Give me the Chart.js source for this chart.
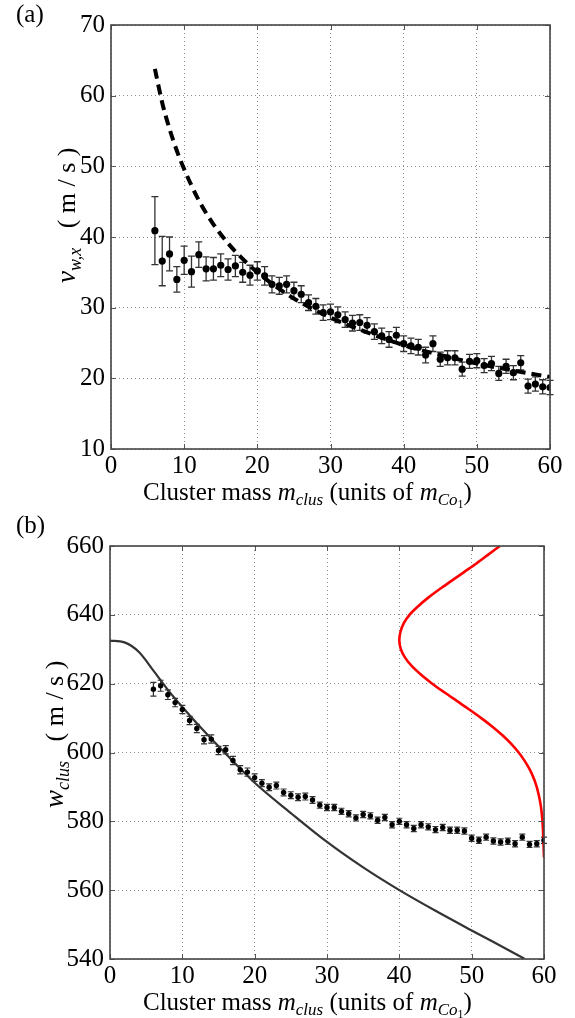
<!DOCTYPE html>
<html>
<head>
<meta charset="utf-8">
<script src="https://cdn.jsdelivr.net/npm/chart.js@4.4.1/dist/chart.umd.min.js"></script>
<style>
  html, body { margin: 0; padding: 0; background: #fff; }
  #wrap { position: relative; width: 575px; height: 1018px; }
  canvas { position: absolute; left: 0; }
  #chartA { top: 0; }
  #chartB { top: 509px; }
</style>
</head>
<body>
<div id="wrap">
  <canvas id="chartA" width="575" height="509"></canvas>
  <canvas id="chartB" width="575" height="509"></canvas>
</div>
<script>
// ---- panel (a): wind velocity vs cluster mass ----
const massA = [6, 7, 8, 9, 10, 11, 12, 13, 14, 15, 16, 17, 18, 19, 20, 21, 22, 23, 24, 25,
  26, 27, 28, 29, 30, 31, 32, 33, 34, 35, 36, 37, 38, 39, 40, 41, 42, 43, 44, 45,
  46, 47, 48, 49, 50, 51, 52, 53, 54, 55, 56, 57, 58, 59, 60];
const velA = [40.9, 36.6, 37.6, 34.0, 36.7, 35.1, 37.5, 35.5, 35.5, 36.0, 35.4, 35.9, 35.0, 34.6, 35.2, 34.5, 33.3, 33.1, 33.3, 32.4,
  31.9, 30.7, 30.2, 29.3, 29.4, 29.0, 28.3, 27.8, 27.9, 27.5, 26.6, 26.0, 25.5, 26.1, 24.9, 24.6, 24.4, 23.3, 24.9, 22.7,
  22.9, 22.9, 21.3, 22.4, 22.5, 21.8, 22.1, 20.7, 21.7, 20.8, 22.2, 18.9, 19.2, 18.8, 18.7];
const errA = [4.8, 3.5, 2.4, 1.8, 2.0, 2.2, 1.8, 1.7, 1.6, 1.6, 1.5, 1.5, 1.4, 1.4, 1.3, 1.3, 1.2, 1.2, 1.2, 1.2,
  1.2, 1.1, 1.1, 1.1, 1.1, 1.1, 1.1, 1.1, 1.1, 1.1, 1.1, 1.1, 1.1, 1.1, 1.1, 1.1, 1.1, 1.1, 1.1, 1.0,
  1.0, 1.0, 1.0, 1.0, 1.0, 1.0, 1.0, 1.0, 1.0, 1.0, 1.0, 1.0, 1.0, 1.0, 1.0];
// dashed model curve
const fitMassA = [6, 7, 8, 9, 10, 12, 14, 16, 18, 20, 25, 30, 35, 40, 45, 50, 55, 60];
const fitVelA = [63.8, 59.0, 55.3, 52.2, 49.6, 45.2, 41.8, 39.1, 36.9, 35.0, 31.3, 28.6, 26.5, 24.7, 23.3, 22.1, 21.1, 20.2];

// ---- panel (b): cluster velocity vs cluster mass ----
const massB = massA;
const velB = [618.4, 619.4, 616.8, 614.5, 612.5, 609.3, 607.0, 603.7, 603.9, 600.6, 600.8, 597.7, 595.0, 594.3, 592.7, 591.1, 589.9, 590.4, 588.4, 587.6,
  587.0, 587.2, 586.2, 584.7, 584.0, 584.0, 582.9, 582.2, 581.0, 582.0, 581.6, 580.3, 581.1, 579.0, 580.0, 579.0, 577.9, 579.0, 578.4, 577.6,
  578.2, 577.4, 577.4, 577.2, 575.1, 574.5, 575.4, 574.3, 574.0, 574.2, 573.5, 575.4, 573.3, 573.5, 574.5];
const errB = [2.0, 1.6, 1.4, 1.2, 1.2, 1.2, 1.2, 1.2, 1.2, 1.2, 1.2, 1.2, 1.2, 1.2, 1.1, 1.0, 1.0, 1.0, 1.0, 1.0,
  1.0, 1.0, 1.0, 0.9, 0.9, 0.9, 0.9, 0.9, 0.9, 0.9, 0.9, 0.9, 0.9, 0.9, 0.9, 0.9, 0.9, 0.9, 0.9, 0.9,
  0.9, 0.9, 0.9, 0.9, 0.9, 0.9, 0.9, 0.9, 0.9, 0.9, 0.9, 0.9, 0.9, 0.9, 0.9];
// solid black model curve
const lineMassB = [0, 2, 4, 6, 8, 10, 12, 15, 20, 25, 30, 35, 40, 45, 50, 55, 57.3];
const lineVelB = [632.5, 632.0, 629.2, 623.8, 618.2, 613.2, 608.5, 601.8, 591.2, 582.4, 574.0, 566.6, 560.0, 554.0, 548.3, 542.7, 540.1];
// red distribution curve (mass as a function of velocity)
const redVelB = [569.5, 572.5, 575, 577.5, 580, 582.5, 585, 587.5, 590, 592.5, 595, 597.5, 600, 602.5, 605, 607.5,
  610, 612.5, 615, 617.5, 620, 622.5, 625, 627.5, 630, 632.5, 635, 637.5, 640, 642.5, 645, 647.5, 650, 652.5,
  655, 657.5, 660];
const redMassB = [60.0, 59.95, 59.91, 59.86, 59.79, 59.68, 59.52, 59.29, 58.99, 58.58, 58.04, 57.35, 56.5, 55.47, 54.26, 52.87,
  51.33, 49.67, 47.94, 46.21, 44.55, 43.05, 41.77, 40.81, 40.21, 40.0, 40.15, 40.6, 41.4, 42.6, 44.0, 45.6, 47.3, 49.0,
  50.7, 52.3, 53.9];

// ticks
const xTicks = [0, 10, 20, 30, 40, 50, 60];
const yTicksA = [10, 20, 30, 40, 50, 60, 70];
const yTicksB = [540, 560, 580, 600, 620, 640, 660];

const SERIF = '"Liberation Serif", "DejaVu Serif", serif';

function pairs(xs, ys) {
    return xs.map((x, i) => ({ x: x, y: ys[i] }));
}

// draws a run of text pieces (used for subscripts in axis titles)
function drawRich(ctx, parts, x, y, rotate) {
    ctx.save();
    ctx.translate(x, y);
    if (rotate) ctx.rotate(-Math.PI / 2);
    ctx.textBaseline = 'alphabetic';
    ctx.textAlign = 'left';
    ctx.fillStyle = '#000';
    let cx = 0;
    for (const p of parts) {
        ctx.font = (p.italic ? 'italic ' : '') + p.size + 'px ' + SERIF;
        ctx.fillText(p.text, cx, p.dy || 0);
        cx += ctx.measureText(p.text).width;
    }
    ctx.restore();
}

const paperPlugin = {
    id: 'paper',
    beforeDatasetsDraw(chart, args, opts) {
        const ctx = chart.ctx;
        const yScale = chart.scales.y;
        chart.data.datasets.forEach((ds, i) => {
            if (!ds.errors) return;
            const meta = chart.getDatasetMeta(i);
            ctx.save();
            ctx.strokeStyle = opts.errColor;
            ctx.lineWidth = opts.errWidth;
            meta.data.forEach((pt, j) => {
                const v = ds.data[j].y, e = ds.errors[j];
                const top = yScale.getPixelForValue(v + e);
                const bot = yScale.getPixelForValue(v - e);
                const cw = opts.capHalf;
                ctx.beginPath();
                ctx.moveTo(pt.x, top); ctx.lineTo(pt.x, bot);
                ctx.moveTo(pt.x - cw, top); ctx.lineTo(pt.x + cw, top);
                ctx.moveTo(pt.x - cw, bot); ctx.lineTo(pt.x + cw, bot);
                ctx.stroke();
            });
            ctx.restore();
        });
    },
    afterDraw(chart, args, opts) {
        const ctx = chart.ctx;
        const a = chart.chartArea;
        const xs = chart.scales.x, ys = chart.scales.y;
        ctx.save();
        // inward tick marks on all four sides
        ctx.strokeStyle = '#555';
        ctx.lineWidth = 1;
        ctx.beginPath();
        xs.ticks.forEach(t => {
            const px = Math.round(xs.getPixelForValue(t.value)) + 0.5;
            ctx.moveTo(px, a.bottom); ctx.lineTo(px, a.bottom - 5);
            ctx.moveTo(px, a.top); ctx.lineTo(px, a.top + 5);
        });
        ys.ticks.forEach(t => {
            const py = Math.round(ys.getPixelForValue(t.value)) + 0.5;
            ctx.moveTo(a.left, py); ctx.lineTo(a.left + 5, py);
            ctx.moveTo(a.right, py); ctx.lineTo(a.right - 5, py);
        });
        ctx.stroke();
        // frame
        ctx.strokeStyle = '#444';
        ctx.lineWidth = 1.6;
        ctx.strokeRect(a.left, a.top, a.right - a.left, a.bottom - a.top);
        ctx.restore();

        // panel tag
        drawRich(ctx, [{ text: opts.tag, size: 25 }], 16, opts.tagY, false);
        // x title
        drawRich(ctx, [
            { text: 'Cluster mass ', size: 25 },
            { text: 'm', size: 25, italic: true },
            { text: 'clus', size: 17, italic: true, dy: 5 },
            { text: ' (units of ', size: 25 },
            { text: 'm', size: 25, italic: true },
            { text: 'Co', size: 17, italic: true, dy: 5 },
            { text: '1', size: 12, dy: 8 },
            { text: ')', size: 25 }
        ], 143, opts.xTitleY, false);
        // y title
        drawRich(ctx, opts.yTitle, opts.yTitleX, opts.yTitleY, true);
    }
};

function axisOptions(yMin, yMax, yTickVals, areaLeft, xAxisHeight) {
    const tickFont = { family: SERIF, size: 25 };
    return {
        x: {
            type: 'linear', min: 0, max: 60,
            afterBuildTicks: s => { s.ticks = xTicks.map(v => ({ value: v })); },
            afterFit: s => { s.height = xAxisHeight; },
            ticks: { color: '#000', font: tickFont, padding: 2, maxRotation: 0 },
            grid: { color: '#8c8c8c', lineWidth: 1, drawTicks: false },
            border: { display: false, dash: [1, 3] }
        },
        y: {
            type: 'linear', min: yMin, max: yMax,
            afterBuildTicks: s => { s.ticks = yTickVals.map(v => ({ value: v })); },
            afterFit: s => { s.width = areaLeft; },
            ticks: { color: '#000', font: tickFont, padding: 6 },
            grid: { color: '#8c8c8c', lineWidth: 1, drawTicks: false },
            border: { display: false, dash: [1, 3] }
        }
    };
}

new Chart(document.getElementById('chartA'), {
    type: 'scatter',
    data: {
        datasets: [
            {
                data: pairs(massA, velA),
                errors: errA,
                backgroundColor: '#000', borderColor: '#000',
                pointRadius: 3.6, pointBorderWidth: 0,
                order: 0
            },
            {
                data: pairs(fitMassA, fitVelA),
                showLine: true, pointRadius: 0,
                borderColor: '#000', borderWidth: 4,
                borderDash: [10, 6], borderCapStyle: 'butt',
                cubicInterpolationMode: 'monotone',
                order: 1
            }
        ]
    },
    options: {
        responsive: false, animation: false,
        layout: { padding: { left: 0, top: 25, right: 25, bottom: 0 } },
        plugins: {
            legend: { display: false }, tooltip: { enabled: false },
            paper: {
                errColor: '#333', errWidth: 1.3, capHalf: 3.5,
                tag: '(a)', tagY: 22, xTitleY: 500,
                yTitleX: 75, yTitleY: 283,
                yTitle: [
                    { text: 'v', size: 27, italic: true },
                    { text: 'w,x', size: 18, italic: true, dy: 6 },
                    { text: '   ( m / s )', size: 26 }
                ]
            }
        },
        scales: axisOptions(10, 70, yTicksA, 111, 60)
    },
    plugins: [paperPlugin]
});

new Chart(document.getElementById('chartB'), {
    type: 'scatter',
    data: {
        datasets: [
            {
                data: pairs(massB, velB),
                errors: errB,
                backgroundColor: '#000', borderColor: '#000',
                pointRadius: 2.7, pointBorderWidth: 0,
                order: 0
            },
            {
                data: pairs(lineMassB, lineVelB),
                showLine: true, pointRadius: 0,
                borderColor: '#333', borderWidth: 2.2,
                cubicInterpolationMode: 'monotone',
                order: 1
            },
            {
                data: pairs(redMassB, redVelB),
                showLine: true, pointRadius: 0,
                borderColor: '#ff0000', borderWidth: 2.6,
                tension: 0.3,
                order: 2
            }
        ]
    },
    options: {
        responsive: false, animation: false,
        layout: { padding: { left: 0, top: 37, right: 31, bottom: 0 } },
        plugins: {
            legend: { display: false }, tooltip: { enabled: false },
            paper: {
                errColor: '#333', errWidth: 1.2, capHalf: 3,
                tag: '(b)', tagY: 24, xTitleY: 501,
                yTitleX: 63, yTitleY: 299,
                yTitle: [
                    { text: 'w', size: 27, italic: true },
                    { text: 'clus', size: 18, italic: true, dy: 6 },
                    { text: '   ( m / s )', size: 26 }
                ]
            }
        },
        scales: axisOptions(540, 660, yTicksB, 110, 59)
    },
    plugins: [paperPlugin]
});
</script>
</body>
</html>
